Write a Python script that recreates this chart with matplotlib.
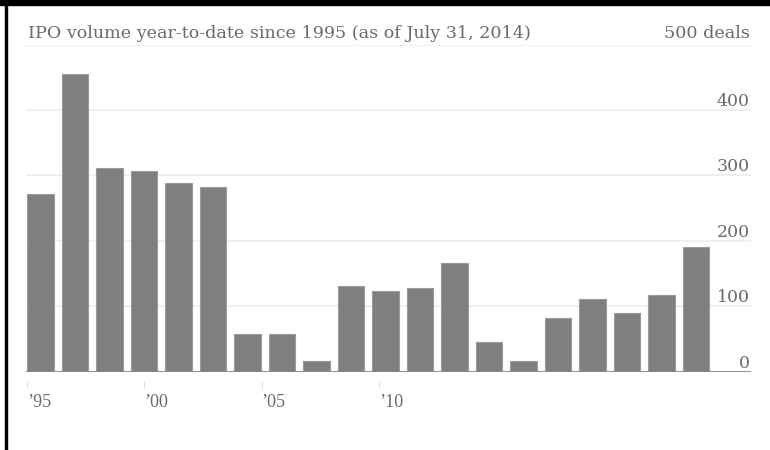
import matplotlib.pyplot as plt
from matplotlib.patches import Rectangle

# IPO deals priced year-to-date (through July 31) for each year
years = list(range(1995, 2015))
deals = [271, 455, 312, 307, 288, 282, 57, 57, 17, 131,
         124, 128, 166, 45, 16, 82, 111, 90, 117, 190]

y_ticks = [0, 100, 200, 300, 400]
x_ticks = [1995, 2000, 2005, 2010]
x_tick_labels = ["\u201995", "\u201900", "\u201905", "\u201910"]

plt.rcParams["font.family"] = ["Liberation Serif", "DejaVu Serif"]
label_font = ["DejaVu Serif"]
grey_text = "#6a6a6a"

fig = plt.figure(figsize=(7.7, 4.5), dpi=100)
ax = fig.add_axes([26 / 770, 1 - 371.7 / 450, 725 / 770, 327 / 450])

ax.bar(years, deals, width=0.77, color="#7f7f7f", edgecolor="#9a9a9a",
       linewidth=0.8, zorder=3)

ax.set_xlim(1995 - 0.42, 2015.59)
ax.set_ylim(0, 500)

# light horizontal gridlines, 500 line sits under the title
for v in y_ticks[1:] + [500]:
    ax.axhline(v, color="#ececec", lw=1.2, zorder=1)
ax.axhline(0, color="#8a8a8a", lw=1.3, zorder=4)

for s in ax.spines.values():
    s.set_visible(False)
ax.set_xticks([])
ax.set_yticks([])

# y labels sit just above each gridline, flush right
for v in y_ticks:
    ax.text(0.998, v, str(v), transform=ax.get_yaxis_transform(),
            ha="right", va="bottom", fontsize=12.5, color=grey_text,
            family=label_font)

# year axis on its own time scale
ax2 = ax.twiny()
ax2.set_xlim(1995 - 1 / 23.5, 1995 + 725 / 23.5)
ax2.xaxis.set_ticks_position("bottom")
ax2.xaxis.set_label_position("bottom")
ax2.spines["bottom"].set_position(("outward", 7))
for s in ax2.spines.values():
    s.set_visible(False)
ax2.set_xticks(x_ticks)
ax2.set_xticklabels(x_tick_labels, ha="left")
ax2.tick_params(axis="x", length=5, width=0.8, color="#dddddd", pad=4,
                labelsize=13, labelcolor=grey_text)
ax2.set_yticks([])

fig.text(28 / 770, 1 - 38 / 450, "IPO volume year-to-date since 1995 (as of July 31, 2014)",
         ha="left", va="baseline", fontsize=12.6, color=grey_text, family=label_font)
fig.text(750 / 770, 1 - 38 / 450, "500 deals",
         ha="right", va="baseline", fontsize=12.6, color=grey_text, family=label_font)

# black frame along the top and left edge
fig.patches.append(Rectangle((0, 1 - 5 / 450), 1, 5 / 450, transform=fig.transFigure,
                             color="black", zorder=10))
fig.patches.append(Rectangle((4.5 / 770, 0), 2.5 / 770, 1, transform=fig.transFigure,
                             color="black", zorder=10))

fig.savefig("out.png", dpi=100)
